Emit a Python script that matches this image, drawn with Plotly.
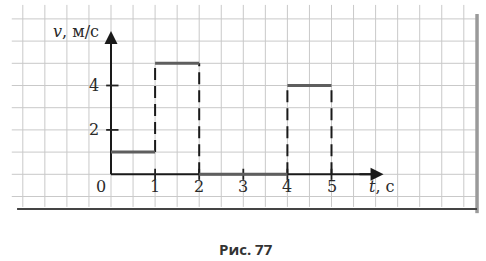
import plotly.graph_objects as go

# ---- data ----
t_edges = [0, 1, 2, 4, 5]          # time boundaries, s
v_values = [1, 5, 0, 4]            # velocity on each interval, m/s
x_tick_vals = [1, 2, 3, 4, 5]
x_tick_text = ["1", "2", "3", "4", "5"]
y_tick_vals = [2, 4]
y_tick_text = ["2", "4"]
x_grid = [i * 0.5 for i in range(-4, 17)]   # -2 .. 8
y_grid = list(range(-1, 8))                  # -1 .. 7

# ---- geometry (data units) ----
X0, X1 = -111 / 44.1, 375 / 44.1
Y0, Y1 = (174.3 - 261) / 22.2, 174.3 / 22.2

fig = go.Figure()
shapes = []
grid_col = "#c9c9c9"
for xg in x_grid:
    shapes.append(dict(type="line", x0=xg, x1=xg, y0=-1.47, y1=7.63,
                       line=dict(color=grid_col, width=1), layer="below"))
for yg in y_grid:
    shapes.append(dict(type="line", x0=-2.25, x1=8.3, y0=yg, y1=yg,
                       line=dict(color=grid_col, width=1), layer="below"))
# frame
shapes.append(dict(type="line", x0=8.3, x1=8.3, y0=-1.75, y1=7.22,
                   line=dict(color="#9a9a9a", width=3.5)))
shapes.append(dict(type="line", x0=-2.13, x1=8.3, y0=-1.56, y1=-1.56,
                   line=dict(color="#444444", width=2)))

# axis lines (below data)
shapes.append(dict(type="line", x0=0, x1=5.9, y0=0, y1=0,
                   line=dict(color="#1a1a1a", width=2), layer="below"))
shapes.append(dict(type="line", x0=0, x1=0, y0=0, y1=6.0,
                   line=dict(color="#1a1a1a", width=2), layer="below"))

# tick marks
for tv in x_tick_vals:
    shapes.append(dict(type="line", x0=tv, x1=tv, y0=-0.25, y1=0.25,
                       line=dict(color="#222222", width=1.8), layer="below"))
for yv in y_tick_vals:
    shapes.append(dict(type="line", x0=-0.11, x1=0.17, y0=yv, y1=yv,
                       line=dict(color="#222222", width=1.8), layer="below"))

# step segments
sx, sy = [], []
for i, v in enumerate(v_values):
    sx += [t_edges[i], t_edges[i + 1], None]
    sy += [v, v, None]

# dashed verticals at each jump
dx, dy = [], []
for i, te in enumerate(t_edges[1:], start=1):
    left = v_values[i - 1]
    right = v_values[i] if i < len(v_values) else 0
    lo, hi = min(left, right), max(left, right)
    if te == t_edges[-1]:
        lo = 0
    dx += [te, te, None]
    dy += [lo, hi, None]

fig.add_trace(go.Scatter(x=dx, y=dy, mode="lines",
                         line=dict(color="#1a1a1a", width=2, dash="12px,6px"),
                         hoverinfo="skip", showlegend=False))
fig.add_trace(go.Scatter(x=sx, y=sy, mode="lines",
                         line=dict(color="#5e5e5e", width=3),
                         hoverinfo="skip", showlegend=False))

annotations = []
# arrow heads
annotations.append(dict(x=6.18, y=0, ax=5.6, ay=0, xref="x", yref="y", axref="x", ayref="y",
                        showarrow=True, arrowhead=2, arrowsize=1.3, arrowwidth=2,
                        arrowcolor="#1a1a1a", text=""))
annotations.append(dict(x=0, y=6.45, ax=0, ay=5.5, xref="x", yref="y", axref="x", ayref="y",
                        showarrow=True, arrowhead=2, arrowsize=1.3, arrowwidth=2,
                        arrowcolor="#1a1a1a", text=""))

serif = "DejaVu Serif"
tick_font = dict(family=serif, size=16, color="#2a2a2a")
for tv, tt in zip(x_tick_vals, x_tick_text):
    annotations.append(dict(x=tv, y=-0.55, text=tt, showarrow=False,
                            xanchor="center", yanchor="middle", font=tick_font))
annotations.append(dict(x=-0.235, y=-0.53, text="0", showarrow=False,
                        xanchor="center", yanchor="middle", font=tick_font))
for yv, yt in zip(y_tick_vals, y_tick_text):
    annotations.append(dict(x=-0.386, y=yv, text=yt, showarrow=False,
                            xanchor="center", yanchor="middle", font=tick_font))

annotations.append(dict(x=-0.22, y=6.45, text="<i>v</i>, м/с", showarrow=False,
                        xanchor="right", yanchor="middle",
                        font=dict(family=serif, size=16, color="#2a2a2a")))
annotations.append(dict(x=5.8, y=-0.55, text="<i>t</i>, с", showarrow=False,
                        xanchor="left", yanchor="middle",
                        font=dict(family=serif, size=16, color="#2a2a2a")))
annotations.append(dict(x=(246 - 111) / 44.1, y=(174.3 - 249) / 22.2, text="<b>Рис. 77</b>",
                        showarrow=False, xanchor="center", yanchor="middle",
                        font=dict(family="Open Sans", size=15, color="#333333")))

fig.update_layout(
    width=486, height=261,
    margin=dict(l=0, r=0, t=0, b=0),
    paper_bgcolor="white", plot_bgcolor="white",
    xaxis=dict(range=[X0, X1], visible=False, fixedrange=True),
    yaxis=dict(range=[Y0, Y1], visible=False, fixedrange=True),
    shapes=shapes, annotations=annotations,
    showlegend=False,
)
fig.write_html("out.html", config={"displayModeBar": False})
